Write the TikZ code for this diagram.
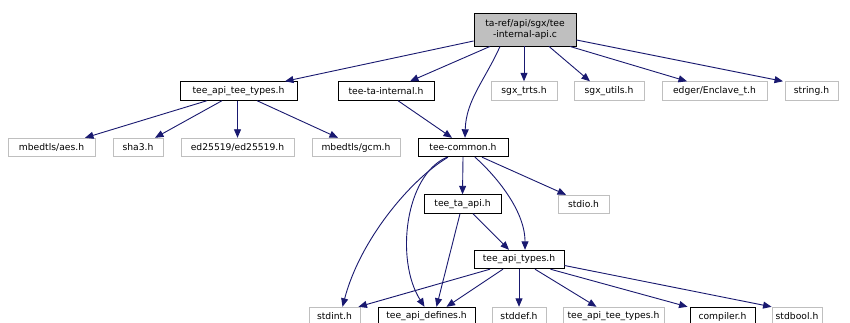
\documentclass[tikz,border=0pt]{standalone}
\usepackage{fontspec}
\setmainfont{DejaVu Sans}
\usetikzlibrary{arrows.meta}
\definecolor{edgecol}{HTML}{191970}
\definecolor{grayb}{HTML}{BFBFBF}
\tikzset{
  box/.style={draw, line width=0.9pt, inner sep=0pt, minimum height=18.5pt, font=\fontsize{9.2}{11}\selectfont, anchor=center},
  nb/.style={box, draw=black},
  ng/.style={box, draw=grayb},
  edge/.style={draw=edgecol, line width=0.9pt, -{Triangle[length=8.5pt,width=7pt]}},
}
\begin{document}
\begin{tikzpicture}[x=1pt,y=-1pt]
\useasboundingbox (0,0) rectangle (850,323);
\fill[white] (0,0) rectangle (850,323);
\clip (0,0) rectangle (850,323);
% nodes
\node[nb, fill=grayb, minimum width=102pt, minimum height=33pt, align=center, font=\fontsize{9.2}{11.5}\selectfont] (root) at (525,29.5) {ta-ref/api/sgx/tee\\-internal-api.c};
\node[nb, minimum width=117pt] (tt1) at (238.5,91) {tee\_api\_tee\_types.h};
\node[nb, minimum width=96pt] (tti) at (386,91) {tee-ta-internal.h};
\node[ng, minimum width=66pt] (trts) at (524,91) {sgx\_trts.h};
\node[ng, minimum width=70pt] (utils) at (609,91) {sgx\_utils.h};
\node[ng, minimum width=105pt] (encl) at (714.5,91) {edger/Enclave\_t.h};
\node[ng, minimum width=53pt] (string) at (811.5,91) {string.h};
\node[ng, minimum width=87pt] (aes) at (51.5,147.5) {mbedtls/aes.h};
\node[ng, minimum width=50pt] (sha3) at (138,147.5) {sha3.h};
\node[ng, minimum width=113pt] (ed) at (237.5,147.5) {ed25519/ed25519.h};
\node[ng, minimum width=88pt] (gcm) at (356,147.5) {mbedtls/gcm.h};
\node[nb, minimum width=90pt] (common) at (463,147.5) {tee-common.h};
\node[nb, minimum width=77pt] (tta) at (462.5,204) {tee\_ta\_api.h};
\node[ng, minimum width=51pt] (stdio) at (583.5,204.5) {stdio.h};
\node[nb, minimum width=90pt] (types) at (519,259.5) {tee\_api\_types.h};
\node[ng, minimum width=51pt] (stdint) at (334.5,316.5) {stdint.h};
\node[nb, minimum width=97pt] (defines) at (426.5,316.5) {tee\_api\_defines.h};
\node[ng, minimum width=54pt] (stddef) at (519,316.5) {stddef.h};
\node[ng, minimum width=101pt] (tt2) at (613.5,316.5) {tee\_api\_tee\_types.h};
\node[nb, minimum width=65pt] (compiler) at (722.5,316.5) {compiler.h};
\node[ng, minimum width=50pt] (stdbool) at (797,316.5) {stdbool.h};
% edges from root
\draw[edge] ([yshift=-11.5pt]root.west) -- ([xshift=46.5pt]tt1.north);
\draw[edge] ([xshift=-35pt]root.south) -- ([xshift=24pt]tti.north);
\draw[edge] ([xshift=-25pt]root.south) .. controls (485,80) and (466,100) .. ([xshift=2pt]common.north);
\draw[edge] ([xshift=-1pt]root.south) -- (trts.north);
\draw[edge] ([xshift=24pt]root.south) -- ([xshift=-19pt]utils.north);
\draw[edge] ([xshift=45pt]root.south) -- ([xshift=-27.5pt]encl.north);
\draw[edge] ([yshift=-10.5pt]root.east) -- ([xshift=-28.5pt]string.north);
% tee_api_tee_types.h
\draw[edge] ([xshift=-31.5pt]tt1.south) -- ([xshift=33.5pt]aes.north);
\draw[edge] ([xshift=-16.5pt]tt1.south) -- ([xshift=17pt]sha3.north);
\draw[edge] ([xshift=-1pt]tt1.south) -- (ed.north);
\draw[edge] ([xshift=18.5pt]tt1.south) -- ([xshift=-18pt]gcm.north);
% tee-ta-internal.h
\draw[edge] ([xshift=12pt]tti.south) -- ([xshift=-11pt]common.north);
% tee-common.h
\draw[edge] (common.south) -- (tta.north);
\draw[edge] ([xshift=19pt]common.south) -- ([xshift=-17.5pt]stdio.north);
\draw[edge] ([xshift=12pt]common.south) .. controls (495,175) and (525,210) .. ([xshift=6pt]types.north);
\draw[edge] ([xshift=-15pt]common.south) .. controls (410,180) and (360,240) .. ([xshift=8pt]stdint.north);
\draw[edge] ([xshift=-16pt]common.south) .. controls (405,175) and (395,260) .. ([xshift=-2pt]defines.north);
% tee_ta_api.h
\draw[edge] ([xshift=-2.5pt]tta.south) -- ([xshift=10pt]defines.north);
\draw[edge] ([xshift=10.5pt]tta.south) -- ([xshift=-10pt]types.north);
% tee_api_types.h
\draw[edge] ([xshift=-29pt]types.south) -- ([xshift=-2pt]stdint.north east);
\draw[edge] ([xshift=-16pt]types.south) -- ([xshift=20pt]defines.north);
\draw[edge] (types.south) -- (stddef.north);
\draw[edge] ([xshift=16pt]types.south) -- ([xshift=-17pt]tt2.north);
\draw[edge] ([xshift=-14pt]types.south east) -- ([xshift=-2pt]compiler.north west);
\draw[edge] ([yshift=-6pt]types.east) -- (stdbool.north west);
\end{tikzpicture}
\end{document}
